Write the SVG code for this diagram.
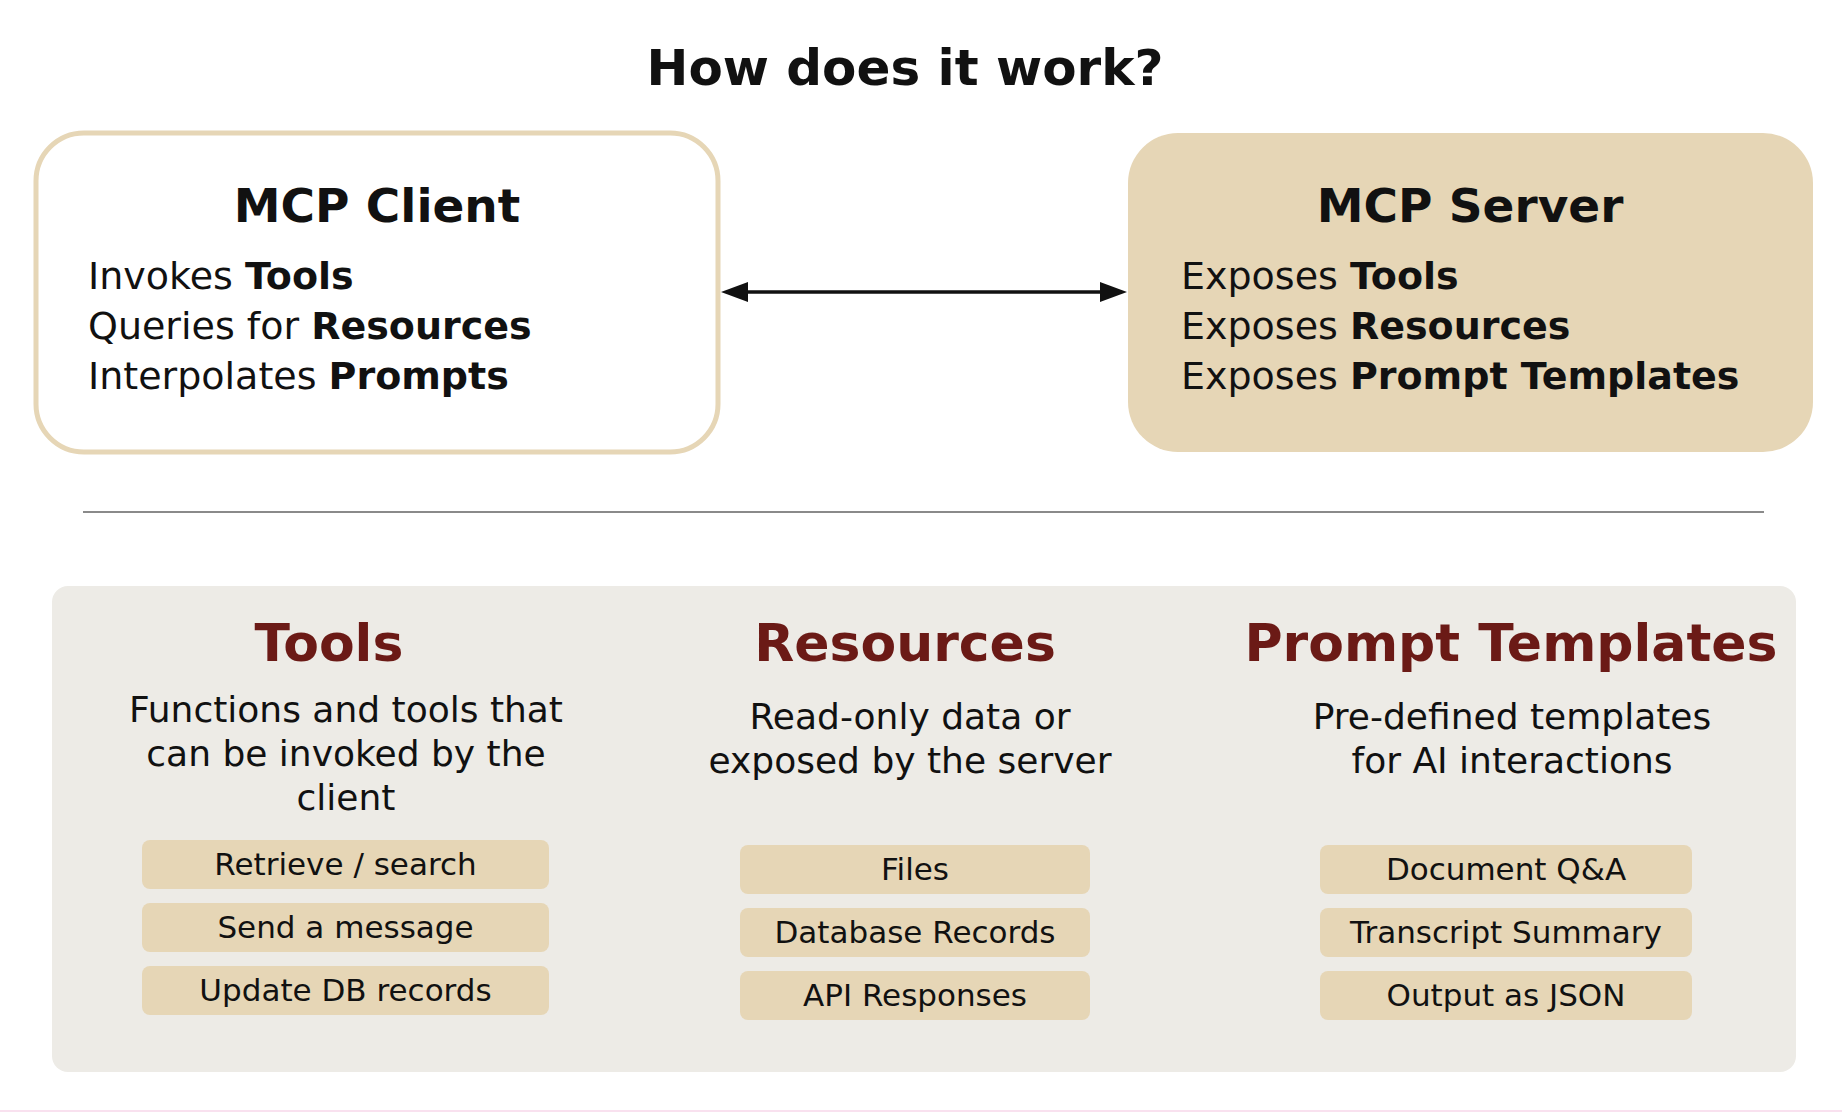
<svg xmlns="http://www.w3.org/2000/svg" width="1842" height="1112" viewBox="0 0 1842 1112">
<defs>
<style>
text{font-family:"DejaVu Sans","Liberation Sans",sans-serif;fill:#111111}
.title{font-size:50px;font-weight:700;text-anchor:middle}
.boxh{font-size:47px;font-weight:700;text-anchor:middle}
.line{font-size:38px;font-weight:400}
.b{font-weight:700}
.sech{font-size:52px;font-weight:700;text-anchor:middle;fill:#6B1A16}
.desc{font-size:36px;font-weight:400;text-anchor:middle}
.pill{fill:#E6D6B6}
.pilltxt{font-size:31px;font-weight:400;text-anchor:middle}
</style>
<marker id="ah" markerUnits="userSpaceOnUse" markerWidth="28" markerHeight="22" refX="13" refY="10" orient="auto-start-reverse">
<path d="M0,0 L27,10 L0,20 Z" fill="#111111"/>
</marker>
</defs>
<rect x="0" y="0" width="1842" height="1112" fill="#FFFFFF"/>
<rect x="0" y="1110" width="1842" height="2" fill="#F9E1EF"/>
<text class="title" x="905" y="85">How does it work?</text>

<g id="client">
<rect x="36" y="133" width="682" height="319" rx="48" fill="#FFFFFF" stroke="#E6D6B6" stroke-width="5"/>
<text class="boxh" x="377" y="222">MCP Client</text>
<text class="line" x="88" y="289">Invokes <tspan class="b">Tools</tspan></text>
<text class="line" x="88" y="339">Queries for <tspan class="b">Resources</tspan></text>
<text class="line" x="88" y="389">Interpolates <tspan class="b">Prompts</tspan></text>
</g>

<g id="server">
<rect x="1128" y="133" width="685" height="319" rx="50" fill="#E6D6B6"/>
<text class="boxh" x="1470" y="222">MCP Server</text>
<text class="line" x="1181" y="289">Exposes <tspan class="b">Tools</tspan></text>
<text class="line" x="1181" y="339">Exposes <tspan class="b">Resources</tspan></text>
<text class="line" x="1181" y="389">Exposes <tspan class="b">Prompt Templates</tspan></text>
</g>

<g id="connectors">
<path d="M735,292 L1113,292" stroke="#111111" stroke-width="3.5" fill="none" marker-start="url(#ah)" marker-end="url(#ah)"/>
</g>

<line id="separator" x1="83" y1="512" x2="1764" y2="512" stroke="#8A8A8A" stroke-width="2"/>

<rect id="panel" x="52" y="586" width="1744" height="486" rx="16" fill="#EDEBE6"/>

<g id="tools">
<text class="sech" x="329" y="661">Tools</text>
<text class="desc" x="346" y="722">Functions and tools that</text>
<text class="desc" x="346" y="766">can be invoked by the</text>
<text class="desc" x="346" y="810">client</text>
<rect class="pill" x="142" y="840" width="407" height="49" rx="8"/>
<text class="pilltxt" x="345.5" y="875">Retrieve / search</text>
<rect class="pill" x="142" y="903" width="407" height="49" rx="8"/>
<text class="pilltxt" x="345.5" y="938">Send a message</text>
<rect class="pill" x="142" y="966" width="407" height="49" rx="8"/>
<text class="pilltxt" x="345.5" y="1001">Update DB records</text>
</g>

<g id="resources">
<text class="sech" x="905" y="661">Resources</text>
<text class="desc" x="910" y="729">Read-only data or</text>
<text class="desc" x="910" y="773">exposed by the server</text>
<rect class="pill" x="740" y="845" width="350" height="49" rx="8"/>
<text class="pilltxt" x="915" y="880">Files</text>
<rect class="pill" x="740" y="908" width="350" height="49" rx="8"/>
<text class="pilltxt" x="915" y="943">Database Records</text>
<rect class="pill" x="740" y="971" width="350" height="49" rx="8"/>
<text class="pilltxt" x="915" y="1006">API Responses</text>
</g>

<g id="prompts">
<text class="sech" x="1511" y="661">Prompt Templates</text>
<text class="desc" x="1512" y="729">Pre-defined templates</text>
<text class="desc" x="1512" y="773">for AI interactions</text>
<rect class="pill" x="1320" y="845" width="372" height="49" rx="8"/>
<text class="pilltxt" x="1506" y="880">Document Q&amp;A</text>
<rect class="pill" x="1320" y="908" width="372" height="49" rx="8"/>
<text class="pilltxt" x="1506" y="943">Transcript Summary</text>
<rect class="pill" x="1320" y="971" width="372" height="49" rx="8"/>
<text class="pilltxt" x="1506" y="1006">Output as JSON</text>
</g>
</svg>
